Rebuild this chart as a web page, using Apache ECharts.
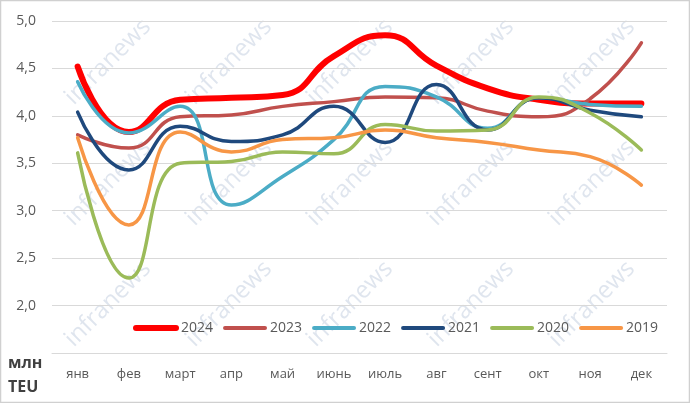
<!DOCTYPE html>
<html>
<head>
<meta charset="utf-8">
<script src="https://cdn.jsdelivr.net/npm/echarts@6/dist/echarts.min.js"></script>
<style>
  html, body { margin: 0; padding: 0; background: #fff; }
  #chart { width: 690px; height: 403px; }
</style>
</head>
<body>
<div id="chart"></div>
<script>
const months = ["янв", "фев", "март", "апр", "май", "июнь", "июль", "авг", "сент", "окт", "ноя", "дек"];

const y2024 = [4.52, 3.83, 4.17, 4.19, 4.22, 4.63, 4.85, 4.53, 4.29, 4.17, 4.13, 4.13];
const y2023 = [3.80, 3.66, 3.99, 4.01, 4.10, 4.15, 4.20, 4.19, 4.05, 3.99, 4.18, 4.77];
const y2022 = [4.36, 3.82, 4.10, 3.06, 3.36, 3.75, 4.31, 4.20, 3.87, 4.19, 4.12, 4.10];
const y2021 = [4.04, 3.43, 3.89, 3.73, 3.80, 4.10, 3.72, 4.33, 3.85, 4.19, 4.06, 3.99];
const y2020 = [3.61, 2.29, 3.50, 3.52, 3.62, 3.60, 3.91, 3.84, 3.85, 4.20, 4.03, 3.64];
const y2019 = [3.77, 2.85, 3.83, 3.62, 3.75, 3.77, 3.85, 3.77, 3.72, 3.64, 3.57, 3.27];

const seriesDefs = [
  { name: "2024", data: y2024, color: "#FF0000", width: 6 },
  { name: "2023", data: y2023, color: "#C0504D", width: 3.5 },
  { name: "2022", data: y2022, color: "#4BACC6", width: 3.5 },
  { name: "2021", data: y2021, color: "#1F497D", width: 3.5 },
  { name: "2020", data: y2020, color: "#9BBB59", width: 3.5 },
  { name: "2019", data: y2019, color: "#F79646", width: 3.5 }
];

// watermark tiles
const marks = [];
for (let i = 0; i < 5; i++) {
  for (let j = 0; j < 3; j++) {
    marks.push({
      type: "text",
      x: 108 + 121 * i,
      y: 62 + 121 * j,
      rotation: Math.PI / 4,
      z: 0,
      silent: true,
      style: {
        text: "infranews",
        fill: "rgba(175,190,212,0.4)",
        font: "24px 'Open Sans'",
        align: "center",
        verticalAlign: "middle"
      }
    });
  }
}

const chart = echarts.init(document.getElementById("chart"));

const option = {
  backgroundColor: "#fff",
  animation: false,
  grid: {
    left: 52,
    right: 23,
    top: 21,
    bottom: 50
  },
  legend: {
    left: 128,
    top: 316,
    itemWidth: 40,
    itemHeight: 14,
    itemGap: 10,
    textStyle: {
      fontFamily: "Open Sans",
      fontSize: 14,
      color: "#595959"
    },
    itemStyle: { color: "rgba(0,0,0,0)", borderWidth: 0, opacity: 0 },
    lineStyle: { width: 4, cap: "round" },
    data: seriesDefs.map(s => ({
      name: s.name,
      lineStyle: { width: s.name === "2024" ? 6 : 4, cap: "round" }
    }))
  },
  xAxis: {
    type: "category",
    data: months,
    boundaryGap: true,
    axisLine: { lineStyle: { color: "#d9d9d9", width: 1 } },
    axisTick: { show: false },
    axisLabel: {
      fontFamily: "Open Sans",
      fontSize: 13,
      color: "#595959",
      margin: 15
    }
  },
  yAxis: {
    type: "value",
    min: 1.5,
    max: 5,
    interval: 0.5,
    axisLine: { show: false },
    axisTick: { show: false },
    splitLine: { lineStyle: { color: "#d9d9d9", width: 1 } },
    axisLabel: {
      fontFamily: "Open Sans",
      fontSize: 14,
      color: "#595959",
      margin: 16,
      formatter: v => (v < 1.9 ? "" : v.toFixed(1).replace(".", ","))
    }
  },
  graphic: [
    {
      type: "rect",
      z: 100,
      silent: true,
      shape: { x: 0.5, y: 0.5, width: 689, height: 402 },
      style: { fill: "none", stroke: "#d0d0d0", lineWidth: 1.5 }
    },
    {
      type: "text",
      left: 8,
      top: 351,
      silent: true,
      style: {
        text: "млн\nTEU",
        fill: "#404040",
        font: "bold 16px 'Open Sans'",
        lineHeight: 24,
        align: "center"
      }
    }
  ].concat(marks),
  series: seriesDefs.map(s => ({
    name: s.name,
    type: "line",
    data: s.data,
    smooth: true,
    symbol: "none",
    color: s.color,
    lineStyle: { width: s.width, color: s.color, cap: "round" }
  }))
};

chart.setOption(option);
</script>
</body>
</html>
